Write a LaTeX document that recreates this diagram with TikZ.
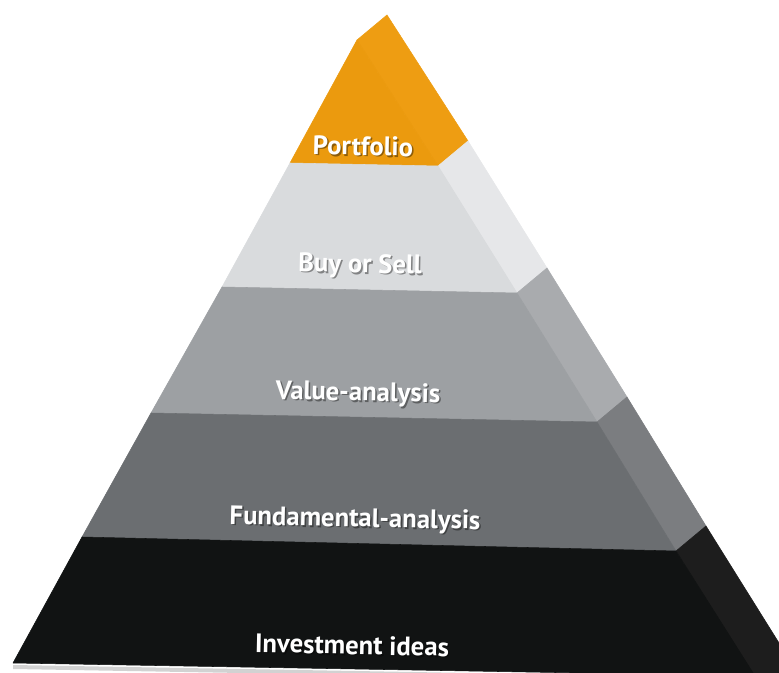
\documentclass[tikz,border=0pt]{standalone}
\usepackage{fontspec}
\setmainfont{PT Sans}
\begin{document}
\begin{tikzpicture}[x=0.75pt,y=-0.75pt,
  face/.style={fill=#1,draw=#1,line width=0.4pt,line join=round},
  lbl/.style={text=white,font=\bfseries\fontsize{20}{24}\selectfont,rotate=-1.2,inner sep=0pt},
  lblshadow/.style={text=black,opacity=0.4,font=\bfseries\fontsize{20}{24}\selectfont,rotate=-1.2,inner sep=0pt}]
\definecolor{orangeF}{HTML}{EB9A0E}
\definecolor{orangeS}{HTML}{EE9D12}
\definecolor{lightF}{HTML}{D9DBDD}
\definecolor{lightS}{HTML}{E6E7E9}
\definecolor{midF}{HTML}{9DA0A3}
\definecolor{midS}{HTML}{A9ABAE}
\definecolor{darkF}{HTML}{6B6E71}
\definecolor{darkS}{HTML}{7B7D80}
\definecolor{blackF}{HTML}{111313}
\definecolor{blackS}{HTML}{1D1D1D}
\useasboundingbox (0,0) rectangle (779,673);
\begin{scope}
\clip (0,0) rectangle (779,673);
% apex of the front face and of the back edge
\coordinate (F) at (357,40);
\coordinate (B) at (387,15);
% layer boundaries: left end, ridge end, back end
\coordinate (l1) at (290,163); \coordinate (r1) at (438,166); \coordinate (s1) at (468,141);
\coordinate (l2) at (222,287); \coordinate (r2) at (517,293); \coordinate (s2) at (547,268);
\coordinate (l3) at (151,413); \coordinate (r3) at (597,422); \coordinate (s3) at (627,397);
\coordinate (l4) at (82,537);  \coordinate (r4) at (676,551); \coordinate (s4) at (706,526);
\coordinate (l5) at (13,663);  \coordinate (r5) at (755,676);
\coordinate (r6) at (769,700); \coordinate (s6) at (799,675);
% soft shadow under the base
\fill[gray!35] (13,665) -- (755,678) -- (755,682) -- (13,669) -- cycle;
% side faces
\draw[face=orangeS] (F) -- (r1) -- (s1) -- (B) -- cycle;
\draw[face=lightS] (r1) -- (r2) -- (s2) -- (s1) -- cycle;
\draw[face=midS] (r2) -- (r3) -- (s3) -- (s2) -- cycle;
\draw[face=darkS] (r3) -- (r4) -- (s4) -- (s3) -- cycle;
\draw[face=blackS] (r4) -- (r6) -- (s6) -- (s4) -- cycle;
% front faces
\draw[face=orangeF] (F) -- (l1) -- (r1) -- cycle;
\draw[face=lightF] (l1) -- (l2) -- (r2) -- (r1) -- cycle;
\draw[face=midF] (l2) -- (l3) -- (r3) -- (r2) -- cycle;
\draw[face=darkF] (l3) -- (l4) -- (r4) -- (r3) -- cycle;
\draw[face=blackF] (l4) -- (l5) -- (r5) -- (r4) -- cycle;
\end{scope}
% labels with a soft drop shadow
\foreach \n/\x/\y/\t in {portfolio/363/146/Portfolio, buysell/360/266/Buy or Sell,
  value/358/394/Value-analysis, fundamental/355/520/Fundamental-analysis,
  ideas/352/645/Investment ideas}{
  \node[lblshadow] at (\x+1.5,\y+1.5) {\t};
  \node[lbl] (\n) at (\x,\y) {\t};
}
\end{tikzpicture}
\end{document}
